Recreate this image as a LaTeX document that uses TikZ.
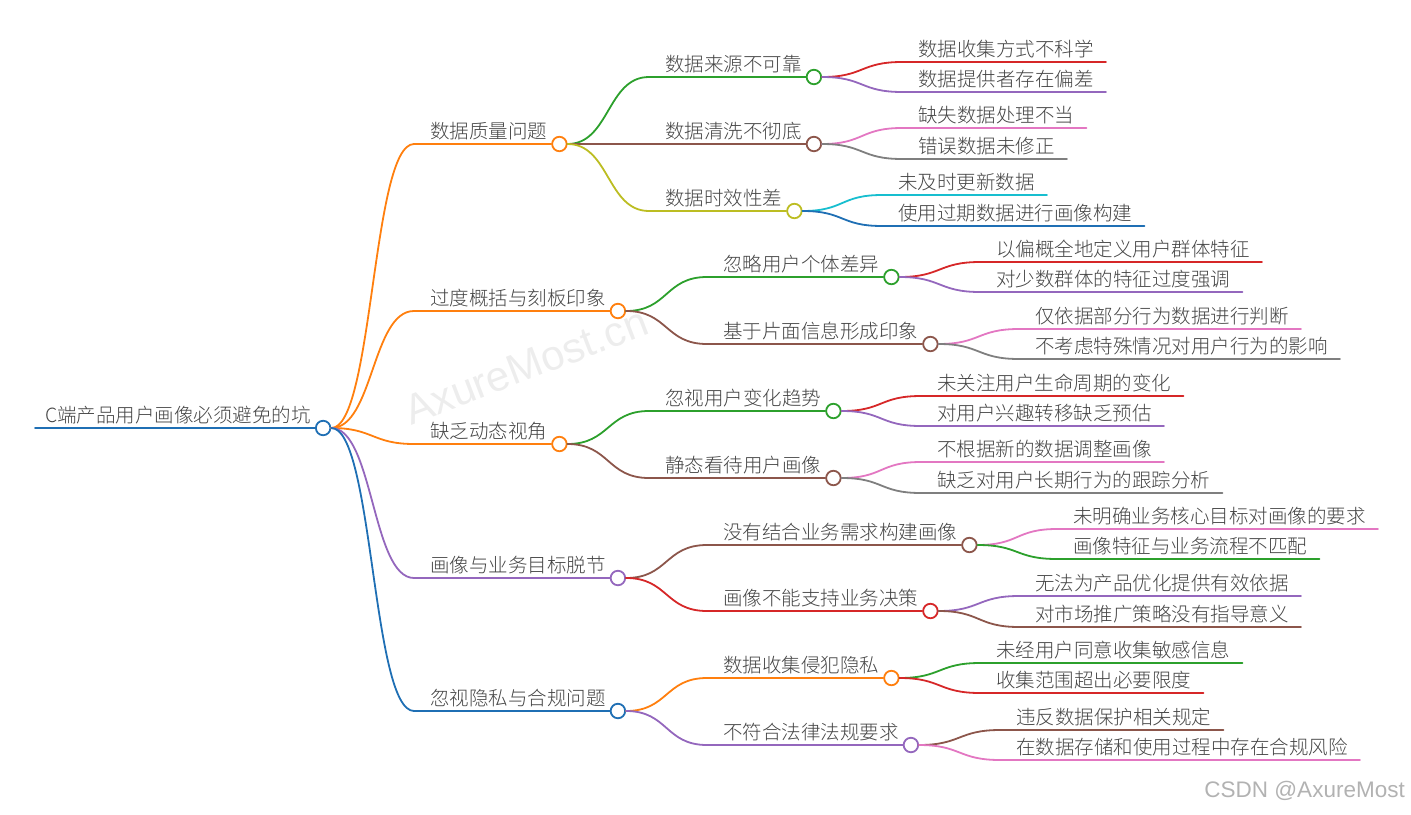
\documentclass[tikz,border=0pt]{standalone}
\usepackage{fontspec}
\setmainfont{Noto Sans CJK SC}[UprightFont={* Light}]
\newfontfamily\wmfont{Liberation Sans}
\usetikzlibrary{calc}
\definecolor{cblue}{HTML}{1F6FB4}
\definecolor{corange}{HTML}{FF7F0E}
\definecolor{cgreen}{HTML}{2CA02C}
\definecolor{cred}{HTML}{D62728}
\definecolor{cpurple}{HTML}{9467BD}
\definecolor{cbrown}{HTML}{8C564B}
\definecolor{cpink}{HTML}{E377C2}
\definecolor{cgray}{HTML}{7F7F7F}
\definecolor{colive}{HTML}{BCBD22}
\definecolor{ccyan}{HTML}{17BECF}
\definecolor{txtgray}{HTML}{444444}
\definecolor{wmgray}{HTML}{EDEDED}
% #1 name, #2 parent, #3 text x, #4 line y, #5 colour, #6 text
\newcommand\mmmid[6]{%
  \coordinate (#1s) at ($(#3,#4)+(-16,0)$);
  \node[lbl] (#1t) at ($(#3,#4)+(0,-6)$) {#6};
  \node[dot=#5] (#1) at ($(#1t.east |- #1s)+(12,0)$) {};
  \draw[edge=#5] (#2.east) .. controls +(42,0) and +(-42,0) .. (#1s) -- (#1.west);
}
\newcommand\mmleaf[6]{%
  \coordinate (#1s) at ($(#3,#4)+(-16,0)$);
  \node[lbl] (#1) at ($(#3,#4)+(0,-6)$) {#6};
  \coordinate (#1e) at ($(#1.east |- #1s)+(12,0)$);
  \draw[edge=#5] (#2.east) .. controls +(42,0) and +(-42,0) .. (#1s) -- (#1e);
}
\begin{document}
\begin{tikzpicture}[x=1pt,y=-1pt,
  lbl/.style={inner sep=0pt, anchor=base west, text=txtgray, font=\fontsize{19.5}{20}\selectfont},
  dot/.style={circle, draw=#1, fill=white, line width=1.8pt, minimum size=14.5pt, inner sep=0pt},
  edge/.style={draw=#1, line width=1.8pt, line cap=round}]
\useasboundingbox (0,0) rectangle (1411,814);
\node[rotate=21, text=wmgray, font=\wmfont\fontsize{42}{42}\selectfont, inner sep=0pt] (wm1) at (526,366) {AxureMost.cn};
\node[anchor=base east, text=black!30, font=\wmfont\fontsize{22.5}{22}\selectfont, inner sep=0pt] (wm2) at (1405,797) {CSDN @AxureMost};

% root
\coordinate (rootstart) at (35,428);
\node[lbl] (roott) at (45,422) {C端产品用户画像必须避免的坑};
\node[dot=cblue] (root) at ($(roott.east |- rootstart)+(12,0)$) {};
\draw[edge=cblue] (rootstart) -- (root.west);

% level 1
\mmmid{a}{root}{430}{144}{corange}{数据质量问题}
\mmmid{b}{root}{430}{311}{corange}{过度概括与刻板印象}
\mmmid{c}{root}{430}{444}{corange}{缺乏动态视角}
\mmmid{d}{root}{430}{578}{cpurple}{画像与业务目标脱节}
\mmmid{e}{root}{430}{711}{cblue}{忽视隐私与合规问题}

% level 2
\mmmid{a1}{a}{665}{77}{cgreen}{数据来源不可靠}
\mmmid{a2}{a}{665}{144}{cbrown}{数据清洗不彻底}
\mmmid{a3}{a}{665}{211}{colive}{数据时效性差}
\mmmid{b1}{b}{723}{277}{cgreen}{忽略用户个体差异}
\mmmid{b2}{b}{723}{344}{cbrown}{基于片面信息形成印象}
\mmmid{c1}{c}{665}{411}{cgreen}{忽视用户变化趋势}
\mmmid{c2}{c}{665}{478}{cbrown}{静态看待用户画像}
\mmmid{d1}{d}{723}{545}{cbrown}{没有结合业务需求构建画像}
\mmmid{d2}{d}{723}{611}{cred}{画像不能支持业务决策}
\mmmid{e1}{e}{723}{678}{corange}{数据收集侵犯隐私}
\mmmid{e2}{e}{723}{745}{cpurple}{不符合法律法规要求}

% level 3
\mmleaf{a11}{a1}{918}{62}{cred}{数据收集方式不科学}
\mmleaf{a12}{a1}{918}{92}{cpurple}{数据提供者存在偏差}
\mmleaf{a21}{a2}{918}{128}{cpink}{缺失数据处理不当}
\mmleaf{a22}{a2}{918}{159}{cgray}{错误数据未修正}
\mmleaf{a31}{a3}{898}{195}{ccyan}{未及时更新数据}
\mmleaf{a32}{a3}{898}{226}{cblue}{使用过期数据进行画像构建}
\mmleaf{b11}{b1}{996}{262}{cred}{以偏概全地定义用户群体特征}
\mmleaf{b12}{b1}{996}{292}{cpurple}{对少数群体的特征过度强调}
\mmleaf{b21}{b2}{1035}{329}{cpink}{仅依据部分行为数据进行判断}
\mmleaf{b22}{b2}{1035}{359}{cgray}{不考虑特殊情况对用户行为的影响}
\mmleaf{c11}{c1}{937}{396}{cred}{未关注用户生命周期的变化}
\mmleaf{c12}{c1}{937}{426}{cpurple}{对用户兴趣转移缺乏预估}
\mmleaf{c21}{c2}{937}{462}{cpink}{不根据新的数据调整画像}
\mmleaf{c22}{c2}{937}{493}{cgray}{缺乏对用户长期行为的跟踪分析}
\mmleaf{d11}{d1}{1073}{529}{cpink}{未明确业务核心目标对画像的要求}
\mmleaf{d12}{d1}{1073}{559}{cgreen}{画像特征与业务流程不匹配}
\mmleaf{d21}{d2}{1035}{596}{cpurple}{无法为产品优化提供有效依据}
\mmleaf{d22}{d2}{1035}{627}{cbrown}{对市场推广策略没有指导意义}
\mmleaf{e11}{e1}{996}{663}{cgreen}{未经用户同意收集敏感信息}
\mmleaf{e12}{e1}{996}{693}{cred}{收集范围超出必要限度}
\mmleaf{e21}{e2}{1016}{730}{cbrown}{违反数据保护相关规定}
\mmleaf{e22}{e2}{1016}{760}{cpink}{在数据存储和使用过程中存在合规风险}
\end{tikzpicture}
\end{document}
